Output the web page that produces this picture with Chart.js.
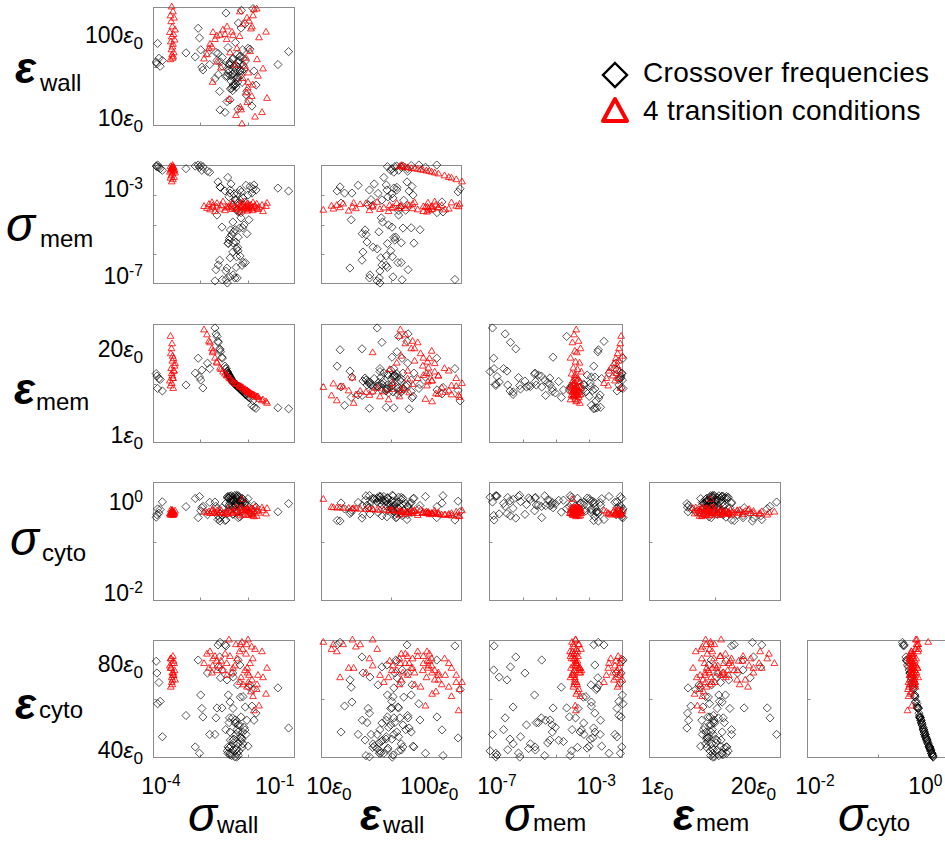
<!DOCTYPE html>
<html>
<head>
<meta charset="utf-8">
<script src="https://cdn.jsdelivr.net/npm/chart.js@4.4.1/dist/chart.umd.min.js"></script>
<style>
html,body{margin:0;padding:0;background:#fff;width:945px;height:847px;overflow:hidden;position:relative;font-family:'Liberation Sans',Arial,Helvetica,sans-serif;color:#000}
canvas{position:absolute}
.lab{position:absolute;font-size:23px;line-height:1;white-space:nowrap}
.xt{transform:translate(-50%,-50%)}
.yt{transform:translate(-100%,-50%)}
.lab sup{font-size:0.68em;position:relative;top:-0.5em;vertical-align:baseline}
.lab sub{font-size:0.75em;position:relative;top:0.36em;vertical-align:baseline}
.lab i{font-style:italic}
.ttl{position:absolute;line-height:1;white-space:nowrap}
.gs{font-size:48px;font-style:italic}
.ge{font-size:44px;font-style:italic;font-weight:bold}
.sb{font-size:24px}
.leg{position:absolute;font-size:28px;line-height:1;letter-spacing:0.3px;white-space:nowrap}
</style>
</head>
<body>
<script>
// ---------------- data: crossover frequencies (diamonds) ----------------
const crossSigmaWall = [
  1.2e-4, 1.4e-4, 1.5e-4, 1.3e-4, 1.7e-4, 1.25e-4,
  6.5e-4, 1.1e-3, 1.3e-3, 1.4e-3, 1.5e-3, 1.6e-3, 1.7e-3, 2.2e-3, 2.5e-3,
  0.12, 0.22,
  5.96e-3, 4.48e-3, 7.9e-3, 1.24e-2, 9.37e-3, 1.21e-2, 1.05e-2, 1.39e-2, 7.46e-3, 1.65e-2,
  4.6e-3, 9.1e-3, 4.0e-3, 1.17e-2, 2.46e-2, 2.2e-2, 3.78e-3, 1.42e-2, 1.85e-2, 1.48e-2,
  1.51e-2, 2.92e-2, 1.27e-2, 8.1e-3, 9.6e-3, 5.02e-3, 1.36e-2, 1.62e-2, 1.07e-2, 7.06e-3,
  1.26e-2, 9.4e-3, 7.7e-3, 7.2e-3, 1.11e-2, 9.2e-3, 1.22e-2, 4.4e-3, 8.0e-3, 1.15e-2,
  4.05e-3, 6.67e-3, 9.5e-3, 1.19e-2, 1.56e-2, 7.8e-3, 5.1e-3, 3.37e-3, 6.8e-3, 6.3e-3,
  1.88e-2, 3.57e-3, 2.75e-2, 3.08e-2, 3.46e-2, 2.32e-2, 1.96e-2,
  7.0e-3, 8.37e-3, 9.91e-3, 1.1e-2, 1.32e-2, 1.47e-2, 1.75e-2, 8.7e-3, 7.5e-3, 1.16e-2,
  1.4e-2, 1.66e-2, 6.2e-3, 1.04e-2, 1.25e-2, 9.3e-3, 1.57e-2, 7.95e-3, 2.07e-2, 1.12e-2
];
const crossEpsWall = [
  50, 55, 45, 80, 52, 48,
  63, 57, 117, 92, 68, 44, 41, 63, 47,
  47, 65,
  14.1, 15.0, 19.3, 15.3, 27.2, 33.6, 36.5, 40.6, 41.5, 46.2,
  50.2, 53.5, 62.2, 60.5, 69.2, 70.7, 52, 58, 130.7, 117.6,
  184, 192, 133.6, 25.5, 34.2, 45.2, 57.1, 68, 81.9, 72,
  49, 55, 47, 41, 26.6, 24.4, 30.2, 23.9, 35.6, 45.5,
  36.5, 18.5, 28.3, 34.5, 39.8, 46.2, 56, 33.0, 35.0, 172,
  51.3, 63.6, 16.5, 40, 28, 19, 22,
  38, 31, 45, 29, 52, 36, 42, 26, 48, 33,
  40, 55, 35, 28, 44, 37, 30, 50, 24, 41
];
const crossSigmaMem = [
  9e-3, 8e-3, 7e-3, 1e-2, 6e-3, 8.5e-3,
  7e-3, 9e-3, 1e-2, 8e-3, 9.5e-3, 6e-3, 8.5e-3, 5.5e-3, 5e-3,
  1.07e-3, 8e-4,
  8.1e-4, 1.2e-3, 6.6e-4, 2.5e-4, 2.1e-4, 6.4e-4, 3.4e-4, 8.9e-4, 4.6e-4, 4.1e-4,
  1.15e-3, 1.7e-4, 1.95e-3, 1.26e-4, 1.25e-3, 5.5e-4, 7.9e-5, 3.3e-4, 2.8e-4, 1.0e-4,
  7.4e-4, 1.0e-3, 1.07e-4, 1.86e-5, 1.55e-5, 2.45e-5, 2.24e-5, 2.3e-5, 1.9e-5, 5.2e-6,
  9.3e-6, 5.4e-6, 9.0e-6, 5.0e-6, 5.8e-6, 2.2e-6, 3.5e-6, 1.0e-6, 1.26e-6, 1.4e-6,
  6.3e-7, 4.7e-7, 2.4e-7, 1.8e-7, 6.1e-7, 2.0e-7, 1.5e-7, 1.35e-7, 1.1e-7, 1.55e-7,
  7.9e-7, 4.0e-7, 6.6e-4, 1.45e-3, 8.9e-4, 5.0e-5, 1.4e-3,
  3.0e-3, 1.6e-3, 6.0e-4, 3.5e-4, 1.2e-4, 6.0e-5, 3.0e-5, 1.2e-5, 7.0e-6, 3.0e-6,
  1.5e-6, 8.0e-7, 3.5e-7, 1.8e-7, 2.5e-6, 4.0e-5, 2.0e-4, 9.0e-4, 1.3e-5, 5.0e-7
];
const crossEpsMem = [
  15, 14, 13.8, 12, 11.5, 14.5,
  12.7, 15.1, 18.1, 14.3, 13.7, 15.7, 12.1, 17.1, 16,
  8.1, 7.9,
  16.5, 19.8, 14.3, 12.3, 13.4, 12.4, 12.9, 11.9, 14.7, 11.3,
  19.4, 13.6, 21.5, 12.5, 10.1, 10.4, 22.5, 11.8, 10.9, 11.7,
  11.6, 9.5, 12.2, 14.1, 13.2, 18.3, 12.0, 11.4, 12.8, 15.1,
  12.3, 13.4, 14.5, 14.9, 12.7, 13.5, 12.4, 20.0, 14.2, 12.6,
  21.3, 15.5, 13.3, 12.6, 11.5, 14.4, 18.1, 24.2, 15.4, 16.0,
  10.8, 23.0, 8.6, 8.2, 8.0, 10.2, 10.7,
  15.1, 14.0, 13.1, 12.7, 12.1, 11.7, 11.1, 13.7, 14.7, 12.5,
  11.9, 11.3, 16.0, 12.9, 12.3, 13.4, 11.5, 14.3, 10.6, 12.7
];
const crossSigmaCyto = [
  0.49, 0.59, 0.70, 0.72, 1.0, 0.55,
  0.80, 1.17, 0.48, 1.28, 0.66, 0.76, 0.81, 0.55, 0.98,
  0.63, 0.92,
  0.42, 0.41, 0.68, 0.95, 0.75, 0.61, 0.87, 0.50, 1.19, 0.66,
  0.58, 0.83, 0.44, 0.92, 0.61, 1.16, 0.73, 0.67, 0.94, 0.80,
  1.03, 0.63, 1.33, 1.06, 1.09, 0.76, 0.88, 0.96, 0.84, 1.18,
  0.48, 1.23, 0.81, 0.66, 0.86, 0.56, 1.12, 0.47, 1.28, 1.36,
  0.52, 0.58, 0.57, 1.29, 1.05, 1.31, 0.53, 0.99, 1.24, 0.43,
  0.74, 0.81, 0.72, 0.85, 0.78, 0.62, 0.97,
  1.28, 1.16, 1.05, 0.98, 1.24, 1.08, 0.91, 1.32, 0.86, 1.20,
  1.01, 1.12, 0.93, 1.34, 0.88, 1.07, 1.18, 0.96, 0.84, 1.22
];
const crossEpsCyto = [
  81, 72, 64, 63, 49, 76,
  58, 44.7, 81.5, 42, 66.7, 61, 57.4, 76, 50,
  69.7, 52.7,
  88, 89, 63.7, 51, 61, 71, 54.8, 79.4, 44.2, 66,
  74, 57, 87.9, 52, 71, 45, 61.2, 65.8, 51.9, 57.4,
  48.5, 69, 41, 47.6, 46.4, 61.2, 54, 51, 56.1, 44.7,
  81.5, 43.4, 57, 66.7, 55, 76, 46, 82.8, 42.1, 40.4,
  78.6, 73.1, 74.3, 42, 48, 41.3, 77.3, 50, 43, 87.5,
  61.6, 57, 62, 56, 59, 70, 50,
  42, 45, 48, 50, 43, 47, 53, 41, 55, 44,
  49, 46, 52, 40.5, 54, 47.5, 44.5, 51, 56, 43.5
];

// ---------------- data: 4 transition conditions (triangles) ----------------
const transSigmaWall = [
  2.9e-4, 3.1e-4, 2.7e-4, 3.3e-4, 2.8e-4, 3.0e-4, 3.5e-4, 2.6e-4, 3.2e-4, 2.9e-4,
  3.4e-4, 2.75e-4, 3.1e-4, 3.0e-4, 2.85e-4, 3.25e-4, 2.95e-4, 3.15e-4, 2.7e-4, 3.05e-4,
  1.81e-3, 2.14e-3, 2.40e-3, 2.54e-3, 2.84e-3, 3.01e-3, 2.95e-3, 3.37e-3, 3.78e-3, 3.72e-3,
  4.48e-3, 4.74e-3, 5.31e-3, 5.96e-3, 6.67e-3, 6.55e-3, 7.9e-3, 8.85e-3, 9.37e-3, 1.05e-2,
  1.17e-2, 1.39e-2, 1.36e-2, 1.42e-2, 1.48e-2, 1.56e-2, 1.65e-2, 1.62e-2, 1.85e-2, 1.96e-2,
  2.07e-2, 2.03e-2, 2.11e-2, 2.2e-2, 2.16e-2, 2.24e-2, 2.32e-2, 2.46e-2, 2.6e-2, 2.75e-2,
  2.71e-2, 2.92e-2, 2.88e-2, 3.08e-2, 3.27e-2, 3.66e-2, 3.6e-2, 3.87e-2, 4.1e-2, 4.86e-2,
  5.14e-2, 6.1e-2, 6.46e-2, 1.11e-2, 7.46e-3
];
const transEpsWall = [
  200, 177, 160, 151, 138, 121, 112, 105, 100, 94,
  87, 83, 78, 73, 68, 63, 60, 57, 53, 55,
  54, 60, 70, 78, 73, 105, 30, 88, 50, 96,
  98, 43, 112, 100, 121, 88, 63, 106, 97, 46,
  70, 177, 95, 16, 15, 10.5, 130, 33, 45, 55,
  151, 23, 18, 30, 26, 38, 140, 65, 115, 121,
  21, 160, 28, 186, 12.5, 53, 190, 35, 92, 14,
  42, 106, 20, 13, 19.5
];
const transSigmaMem = [
  1.95e-3, 2.4e-3, 2.8e-3, 3.0e-3, 3.5e-3, 4.2e-3, 4.6e-3, 5.0e-3, 5.4e-3, 5.6e-3,
  6.0e-3, 6.3e-3, 6.6e-3, 6.9e-3, 7.1e-3, 7.6e-3, 7.9e-3, 8.1e-3, 8.5e-3, 9.5e-3,
  1.8e-4, 1.5e-4, 2.2e-4, 1.3e-4, 2.6e-4, 1.6e-4, 1.9e-4, 1.1e-4, 2.4e-4, 1.7e-4,
  1.4e-4, 2.0e-4, 2.8e-4, 1.2e-4, 1.55e-4, 1.75e-4, 2.1e-4, 1.35e-4, 2.5e-4, 1.65e-4,
  1.45e-4, 1.85e-4, 1.05e-4, 2.3e-4, 1.6e-4, 1.25e-4, 1.95e-4, 2.7e-4, 1.5e-4, 1.8e-4,
  1.4e-4, 2.15e-4, 1.15e-4, 1.7e-4, 2.35e-4, 1.55e-4, 1.3e-4, 1.9e-4, 2.05e-4, 1.6e-4,
  1.45e-4, 2.55e-4, 1.2e-4, 1.75e-4, 1.85e-4, 1.5e-4, 2.25e-4, 1.35e-4, 1.65e-4, 2.0e-4,
  1.1e-4, 1.8e-4, 2.45e-4, 1.4e-4, 1.7e-4
];
const transEpsMem = [
  13, 14, 12.5, 15.5, 16, 14.5, 17, 13.5, 18, 15,
  16.5, 19, 14, 17.5, 20, 15.5, 21, 12, 22.5, 18.5,
  23.8, 22.8, 21.5, 21.2, 20.0, 19.5, 19.2, 18.1, 17.1, 17.3,
  16.1, 15.8, 15.3, 14.9, 14.5, 14.6, 13.9, 13.5, 13.3, 13.0,
  12.8, 12.4, 12.5, 12.3, 12.3, 12.2, 12.1, 12.0, 11.8, 11.6,
  11.5, 11.4, 11.5, 11.3, 11.2, 11.3, 11.2, 11.1, 10.9, 10.8,
  10.7, 10.7, 10.6, 10.6, 10.5, 10.3, 10.2, 10.3, 9.8, 9.5,
  9.7, 9.3, 9.0, 12.9, 14.1
];
const transSigmaCyto = [
  0.66, 0.62, 0.58, 0.56, 0.54, 0.60, 0.65, 0.57, 0.55, 0.63,
  0.59, 0.68, 0.53, 0.67, 0.58, 0.61, 0.56, 0.60, 0.54, 0.64,
  0.62, 0.60, 0.63, 0.58, 0.64, 0.58, 0.70, 0.60, 0.66, 0.59,
  0.61, 0.67, 0.58, 0.57, 0.56, 0.61, 0.62, 0.58, 0.60, 0.66,
  0.62, 0.52, 0.58, 0.74, 0.76, 1.12, 0.54, 0.68, 0.66, 0.63,
  0.53, 0.71, 0.74, 0.69, 0.71, 0.68, 0.54, 0.62, 0.57, 0.55,
  0.72, 0.52, 0.70, 0.50, 0.77, 0.64, 0.51, 0.68, 0.59, 0.75,
  0.66, 0.57, 0.73, 0.76, 0.72
];
const transEpsCyto = [
  72, 75, 78, 80, 82, 76, 73, 79, 81, 74,
  77, 70, 83, 71, 78, 75, 80, 76, 82, 73,
  80, 84, 78, 85, 76, 82, 79, 83, 77, 81,
  79, 81, 77, 84, 75, 80, 83, 76, 78, 79,
  82, 72, 85, 88, 74, 89, 71, 86, 77, 84,
  70, 88, 78, 90, 76, 72, 75, 80, 68, 73,
  87, 66, 82, 60, 86, 71, 69, 75, 62, 85,
  74, 67, 78, 88, 90
];

// ---------------- axis ticks and tick labels ----------------
const sigmaWallTicks = [1.47e-3, 2.15e-2];
const epsWallTicks = [44.7];
const sigmaMemTicks = [1.78e-6, 3.16e-5, 5.62e-4];
const epsMemTicks = [13];
const sigmaCytoTicks = [0.158];
const epsCytoTicks = [65];

const sigmaWallLabelValues = [1e-4, 1e-1];
const sigmaWallLabels = ['10<sup>-4</sup>', '10<sup>-1</sup>'];
const epsWallLabelValues = [10, 100];
const epsWallLabels = ['10<i>ε</i><sub>0</sub>', '100<i>ε</i><sub>0</sub>'];
const sigmaMemLabelValues = [1e-7, 1e-3];
const sigmaMemLabels = ['10<sup>-7</sup>', '10<sup>-3</sup>'];
const epsMemLabelValues = [1, 20];
const epsMemLabels = ['1<i>ε</i><sub>0</sub>', '20<i>ε</i><sub>0</sub>'];
const sigmaCytoLabelValues = [1e-2, 1];
const sigmaCytoLabels = ['10<sup>-2</sup>', '10<sup>0</sup>'];
const epsCytoLabelValues = [40, 80];
const epsCytoLabels = ['40<i>ε</i><sub>0</sub>', '80<i>ε</i><sub>0</sub>'];

// ---------------- variable table built from the arrays ----------------
const VARS = {
  sw: {cross: crossSigmaWall, trans: transSigmaWall, type: 'logarithmic', min: 1e-4, max: Math.pow(10, -0.5),
       ticks: sigmaWallTicks, lv: sigmaWallLabelValues, lt: sigmaWallLabels, g: 'σ', s: 'wall'},
  ew: {cross: crossEpsWall, trans: transEpsWall, type: 'logarithmic', min: 10, max: 200,
       ticks: epsWallTicks, lv: epsWallLabelValues, lt: epsWallLabels, g: 'ε', s: 'wall'},
  sm: {cross: crossSigmaMem, trans: transSigmaMem, type: 'logarithmic', min: 1e-7, max: 1e-2,
       ticks: sigmaMemTicks, lv: sigmaMemLabelValues, lt: sigmaMemLabels, g: 'σ', s: 'mem'},
  em: {cross: crossEpsMem, trans: transEpsMem, type: 'linear', min: 1, max: 25,
       ticks: epsMemTicks, lv: epsMemLabelValues, lt: epsMemLabels, g: 'ε', s: 'mem'},
  sc: {cross: crossSigmaCyto, trans: transSigmaCyto, type: 'logarithmic', min: 1e-2, max: Math.pow(10, 0.4),
       ticks: sigmaCytoTicks, lv: sigmaCytoLabelValues, lt: sigmaCytoLabels, g: 'σ', s: 'cyto'},
  ec: {cross: crossEpsCyto, trans: transEpsCyto, type: 'linear', min: 40, max: 90,
       ticks: epsCytoTicks, lv: epsCytoLabelValues, lt: epsCytoLabels, g: 'ε', s: 'cyto'}
};
const COL_VARS = ['sw', 'ew', 'sm', 'em', 'sc'];
const ROW_VARS = ['ew', 'sm', 'em', 'sc', 'ec'];

// ---------------- layout ----------------
const COL_BOX = [[153, 295], [321, 462], [489, 623], [649, 781], [807, 949]];
const ROW_BOX = [[7, 126], [165, 284], [324, 443], [482, 601], [640, 758]];
const PAD = 7;
const AXIS_GRAY = '#8c8c8c';

const boxPlugin = {
  id: 'panelBox',
  beforeDatasetsDraw(chart, args, opts) {
    const {ctx, chartArea: a, scales} = chart;
    ctx.save();
    ctx.strokeStyle = AXIS_GRAY;
    ctx.lineWidth = 1;
    const l = Math.round(a.left) + 0.5, t = Math.round(a.top) + 0.5;
    const r = Math.round(a.right) - 0.5, b = Math.round(a.bottom) - 0.5;
    ctx.strokeRect(l, t, r - l, b - t);
    ctx.beginPath();
    (opts.xTicks || []).forEach(v => {
      const p = Math.round(scales.x.getPixelForValue(v)) + 0.5;
      ctx.moveTo(p, b); ctx.lineTo(p, b - 3);
    });
    (opts.yTicks || []).forEach(v => {
      const p = Math.round(scales.y.getPixelForValue(v)) + 0.5;
      ctx.moveTo(l, p); ctx.lineTo(l + 3, p);
    });
    ctx.stroke();
    ctx.restore();
  }
};

function pairs(xs, ys) { return xs.map((v, i) => ({x: v, y: ys[i]})); }

function addDiv(cls, html, left, top) {
  const d = document.createElement('div');
  d.className = cls;
  d.innerHTML = html;
  d.style.left = left + 'px';
  d.style.top = top + 'px';
  document.body.appendChild(d);
  return d;
}

for (let r = 0; r < ROW_VARS.length; r++) {
  for (let c = 0; c <= r; c++) {
    const xv = VARS[COL_VARS[c]], yv = VARS[ROW_VARS[r]];
    const [x0, x1] = COL_BOX[c], [y0, y1] = ROW_BOX[r];
    const cv = document.createElement('canvas');
    const W = x1 - x0 + 2 * PAD, H = y1 - y0 + 2 * PAD;
    cv.width = W; cv.height = H;
    cv.style.width = W + 'px'; cv.style.height = H + 'px';
    cv.style.left = (x0 - PAD) + 'px'; cv.style.top = (y0 - PAD) + 'px';
    document.body.appendChild(cv);
    const chart = new Chart(cv, {
      type: 'scatter',
      data: {
        datasets: [
          {label: '4 transition conditions', data: pairs(xv.trans, yv.trans), pointStyle: 'triangle',
           pointRadius: 3.9, borderColor: 'rgba(255,0,0,0.9)', backgroundColor: 'rgba(0,0,0,0)', borderWidth: 0.9, clip: false},
          {label: 'Crossover frequencies', data: pairs(xv.cross, yv.cross), pointStyle: 'rectRot',
           pointRadius: 4.1, borderColor: 'rgba(0,0,0,0.85)', backgroundColor: 'rgba(0,0,0,0)', borderWidth: 0.8, clip: false}
        ]
      },
      options: {
        responsive: false, animation: false, devicePixelRatio: 1, events: [],
        layout: {padding: PAD},
        plugins: {legend: {display: false}, tooltip: {enabled: false},
                  panelBox: {xTicks: xv.ticks, yTicks: yv.ticks}},
        scales: {
          x: {type: xv.type, min: xv.min, max: xv.max, display: false},
          y: {type: yv.type, min: yv.min, max: yv.max, display: false}
        }
      },
      plugins: [boxPlugin]
    });
    // x tick labels on bottom row
    if (r === ROW_VARS.length - 1) {
      xv.lv.forEach((val, i) => {
        let p = chart.scales.x.getPixelForValue(val) + x0 - PAD;
        if (val === xv.min) p += 8;
        addDiv('lab xt', xv.lt[i], p, 786);
      });
    }
    // y tick labels on first column
    if (c === 0) {
      yv.lv.forEach((val, i) => {
        let p = chart.scales.y.getPixelForValue(val) + y0 - PAD;
        if (val === yv.min) p -= 8;
        addDiv('lab yt', yv.lt[i], 143, p);
      });
    }
  }
}

// ---------------- axis titles ----------------
function title(v, gx, gcy, sx, sbase) {
  const isSigma = v.g === 'σ';
  const gs = isSigma ? 48 : 44;
  addDiv('ttl ' + (isSigma ? 'gs' : 'ge'), v.g, gx, gcy - 0.586 * gs);
  addDiv('ttl sb', v.s, sx, sbase - 0.8465 * 24);
}
// left (row) titles
title(VARS.ew, 15, 72, 40, 91);
title(VARS.sm, 6, 229, 40, 247);
title(VARS.em, 14, 393, 36, 410);
title(VARS.sc, 10, 543, 42, 561);
title(VARS.ec, 15, 708, 39, 718);
// bottom (column) titles
title(VARS.sw, 188, 819, 217, 833);
title(VARS.ew, 360, 819, 383, 833);
title(VARS.sm, 504, 819, 533, 831);
title(VARS.em, 673, 819, 696, 831);
title(VARS.sc, 838, 819, 866, 831);

// ---------------- legend ----------------
const legendItems = ['Crossover frequencies', '4 transition conditions'];
const svgNS = 'http://www.w3.org/2000/svg';
const lsvg = document.createElementNS(svgNS, 'svg');
lsvg.setAttribute('width', '40'); lsvg.setAttribute('height', '80');
lsvg.style.position = 'absolute'; lsvg.style.left = '596px'; lsvg.style.top = '55px';
const dia = document.createElementNS(svgNS, 'polygon');
dia.setAttribute('points', '19,8 31,20 19,32 7,20');
dia.setAttribute('fill', 'none'); dia.setAttribute('stroke', '#000'); dia.setAttribute('stroke-width', '2.4');
const tri = document.createElementNS(svgNS, 'polygon');
tri.setAttribute('points', '19,44 31,66 7,66');
tri.setAttribute('fill', 'none'); tri.setAttribute('stroke', '#ff0000'); tri.setAttribute('stroke-width', '4');
tri.setAttribute('stroke-linejoin', 'round');
lsvg.appendChild(dia); lsvg.appendChild(tri);
document.body.appendChild(lsvg);
addDiv('leg', legendItems[0], 643, 83 - 0.8465 * 28);
addDiv('leg', legendItems[1], 643, 121 - 0.8465 * 28);
</script>
</body>
</html>
